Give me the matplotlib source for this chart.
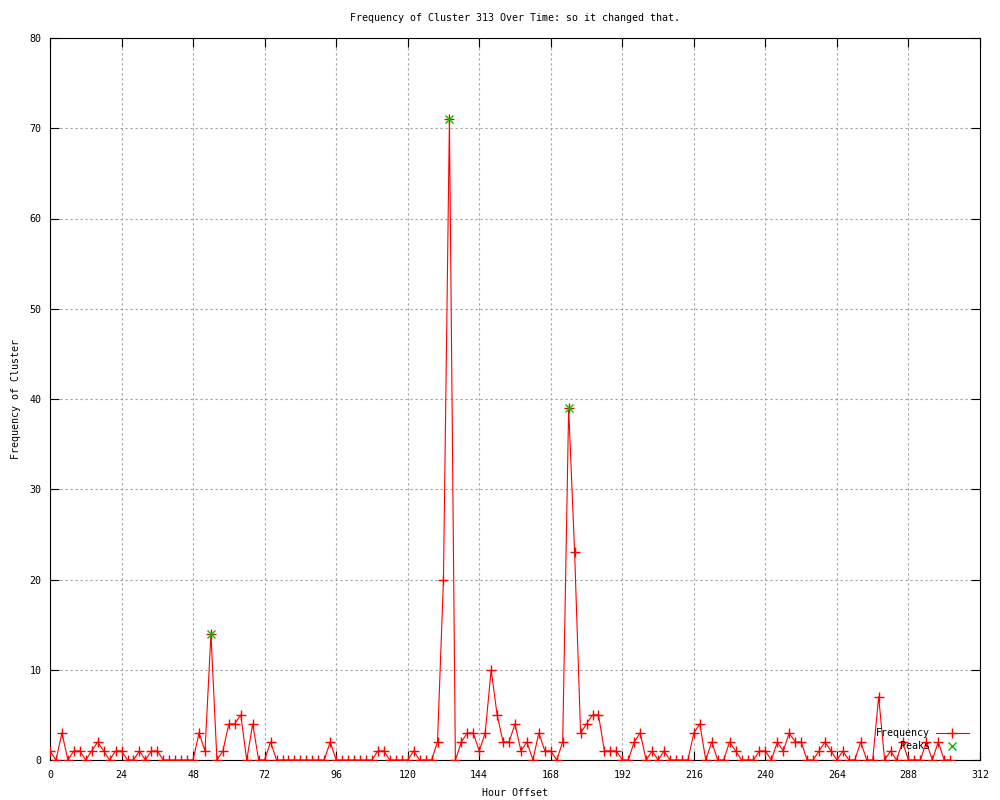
import matplotlib
matplotlib.use("Agg")
import matplotlib.pyplot as plt

plt.rcParams['font.family'] = ['DejaVu Sans Mono']

title = "Frequency of Cluster 313 Over Time: so it changed that."
x_label = "Hour Offset"
y_label = "Frequency of Cluster"

hours = list(range(0, 304, 2))
frequency = [
    1, 0, 3, 0, 1, 1, 0, 1, 2, 1,      # 0-18
    0, 1, 1, 0, 0, 1, 0, 1, 1, 0,      # 20-38
    0, 0, 0, 0, 0, 3, 1, 14, 0, 1,     # 40-58
    4, 4, 5, 0, 4, 0, 0, 2, 0, 0,      # 60-78
    0, 0, 0, 0, 0, 0, 0, 2, 0, 0,      # 80-98
    0, 0, 0, 0, 0, 1, 1, 0, 0, 0,      # 100-118
    0, 1, 0, 0, 0, 2, 20, 71, 0, 2,    # 120-138
    3, 3, 1, 3, 10, 5, 2, 2, 4, 1,     # 140-158
    2, 0, 3, 1, 1, 0, 2, 39, 23, 3,    # 160-178
    4, 5, 5, 1, 1, 1, 0, 0, 2, 3,      # 180-198
    0, 1, 0, 1, 0, 0, 0, 0, 3, 4,      # 200-218
    0, 2, 0, 0, 2, 1, 0, 0, 0, 1,      # 220-238
    1, 0, 2, 1, 3, 2, 2, 0, 0, 1,      # 240-258
    2, 1, 0, 1, 0, 0, 2, 0, 0, 7,      # 260-278
    0, 1, 0, 2, 0, 0, 0, 2, 0, 2,      # 280-298
    0, 0,                              # 300-302
]
peak_hours = [54, 134, 174]
peak_values = [14, 71, 39]

x_ticks = list(range(0, 313, 24))
y_ticks = list(range(0, 81, 10))

fig = plt.figure(figsize=(10, 8), dpi=100)
ax = fig.add_axes([0.05, 0.05, 0.93, 0.9025])

ax.plot(hours, frequency, color='#ff0000', linewidth=0.8, marker='+',
        markersize=7, markeredgewidth=1.0, label='Frequency', zorder=3)
ax.plot(peak_hours, peak_values, linestyle='none', color='#00c000',
        marker='x', markersize=6, markeredgewidth=1.0, label='    Peaks', zorder=4)

ax.set_xlim(0, 312)
ax.set_ylim(0, 80)
ax.set_xticks(x_ticks)
ax.set_yticks(y_ticks)
ax.tick_params(direction='in', length=6.5, width=0.8, top=True, right=True,
               labelsize=7.2, pad=6, colors='black')
ax.tick_params(axis='x', pad=7)
ax.grid(True, color='#a0a0a0', linestyle=(0, (2, 2.5)), linewidth=0.8)
for s in ax.spines.values():
    s.set_linewidth(0.8)
    s.set_color('black')

ax.set_xlabel(x_label, fontsize=7.2)
ax.set_ylabel(y_label, fontsize=7.2)
ax.xaxis.set_label_coords(0.5, -0.039)
ax.yaxis.set_label_coords(-0.031, 0.5)
fig.text(0.515, 0.9775, title, fontsize=7.2, ha='center', va='center')

leg = ax.legend(loc='lower right', bbox_to_anchor=(0.9985, -0.002), frameon=False,
                markerfirst=False, fontsize=7.2, handlelength=3.3,
                handletextpad=0.6, labelspacing=0.3, borderaxespad=0.6)

fig.savefig("out.png", dpi=100)
